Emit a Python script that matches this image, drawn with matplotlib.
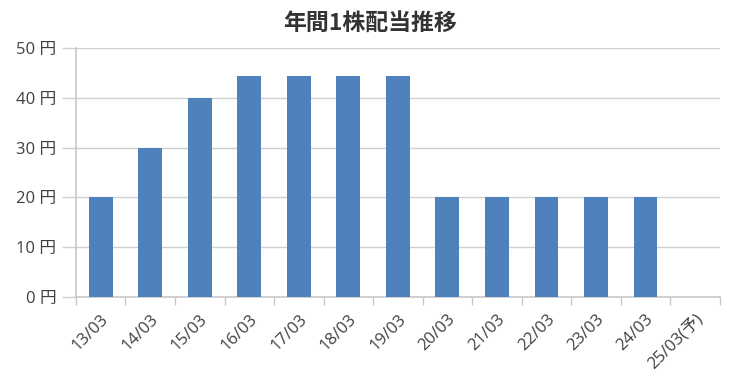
import matplotlib
matplotlib.use("Agg")
import matplotlib.pyplot as plt
import numpy as np

plt.rcParams['font.family'] = ['Noto Sans CJK JP', 'DejaVu Sans']

title = "年間1株配当推移"
categories = ["13/03", "14/03", "15/03", "16/03", "17/03", "18/03", "19/03",
              "20/03", "21/03", "22/03", "23/03", "24/03", "25/03(予)"]
dividends = [20, 30, 40, 44.5, 44.5, 44.5, 44.5, 20, 20, 20, 20, 20, np.nan]
yticks = [0, 10, 20, 30, 40, 50]
ytick_labels = ["0 円", "10 円", "20 円", "30 円", "40 円", "50 円"]

lab_family = ['Open Sans', 'Noto Sans CJK JP']

fig = plt.figure(figsize=(7.3, 3.82), dpi=100)
ax = fig.add_axes([0.104, 0.2225, 0.882, 0.6515])

x = np.arange(len(categories))
ax.bar(x, dividends, width=0.48, color="#4f81bd", zorder=3)

ax.set_xlim(-0.5, len(categories) - 0.5)
ax.set_ylim(0, 50)
ax.set_yticks(yticks)
ax.set_yticklabels(ytick_labels, fontsize=12, color="#404040", family=lab_family)
ax.yaxis.grid(True, color="#d0d0d0", linewidth=1.0, zorder=0)
ax.tick_params(axis='y', length=10, color="#d0d0d0", width=1.0, pad=4)

ax.set_xticks(x)
ax.set_xticklabels(categories, rotation=45, ha='right', rotation_mode='anchor',
                   fontsize=12, color="#404040", family=lab_family)
ax.set_xticks(np.arange(-0.5, len(categories)), minor=True)
ax.tick_params(axis='x', which='major', length=0, pad=10)
ax.tick_params(axis='x', which='minor', length=6, color="#c8c8c8", width=1.0)

for side in ['top', 'right']:
    ax.spines[side].set_visible(False)
for side in ['left', 'bottom']:
    ax.spines[side].set_color("#c8c8c8")
    ax.spines[side].set_linewidth(1.2)

fig.text(0.507, 0.938, title, ha='center', va='center', fontsize=16.5,
         fontweight='bold', color="#333333")

fig.savefig("out.png", dpi=100)
